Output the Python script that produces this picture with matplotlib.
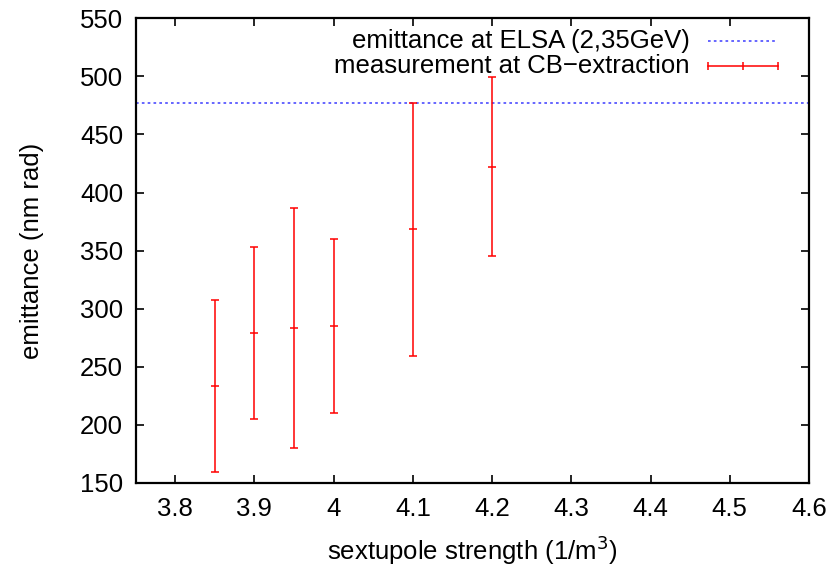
import matplotlib
matplotlib.use("Agg")
import matplotlib.pyplot as plt

plt.rcParams['font.family'] = ['Liberation Sans', 'DejaVu Sans']

# Data
strength = [3.85, 3.9, 3.95, 4.0, 4.1, 4.2]
emittance = [233.5, 279.3, 283.1, 284.9, 368.3, 422.2]
err_low = [159.5, 205.3, 180.1, 210.0, 259.3, 345.3]
err_high = [307.2, 353.4, 386.4, 359.7, 476.8, 499.4]
elsa_emittance = 477.0

xticks = [3.8, 3.9, 4.0, 4.1, 4.2, 4.3, 4.4, 4.5, 4.6]
xticklabels = ['3.8', '3.9', '4', '4.1', '4.2', '4.3', '4.4', '4.5', '4.6']
yticks = [150, 200, 250, 300, 350, 400, 450, 500, 550]

label_elsa = 'emittance at ELSA (2,35GeV)'
label_meas = 'measurement at CB\u2212extraction'

fig = plt.figure(figsize=(8.38, 5.66), dpi=100)
ax = fig.add_axes([135.5/838, (566-483)/566, (809-135.5)/838, (483-18.3)/566])

red = '#ff0000'
blue = '#4c4cff'
fs = 18.5
dots = (0, (1.6, 1.9))

ax.axhline(elsa_emittance, color=blue, lw=1.2, ls=dots)

yerr = [[e - l for e, l in zip(emittance, err_low)],
        [h - e for e, h in zip(emittance, err_high)]]
ax.errorbar(strength, emittance, yerr=yerr, fmt='none', ecolor=red,
            elinewidth=1.1, capsize=2.9, capthick=1.1)
ax.plot(strength, emittance, ls='none', marker='_', ms=6, mew=1.1, color=red)

ax.set_xlim(3.75, 4.6)
ax.set_ylim(150, 550)
ax.set_xticks(xticks)
ax.set_xticklabels(xticklabels)
ax.set_yticks(yticks)
ax.tick_params(direction='in', length=6, width=1.2, top=True, right=True,
               labelsize=fs)
ax.tick_params(axis='x', pad=10)
ax.tick_params(axis='y', pad=9)
for s in ax.spines.values():
    s.set_linewidth(1.6)

ax.set_xlabel('sextupole strength (1/m$^3$)', fontsize=fs, labelpad=9)
ax.set_ylabel('emittance (nm rad)', fontsize=fs, labelpad=26)

# gnuplot-style key (text left of sample)
tx = 0.823
x0, x1 = 0.850, 0.954
xm = (x0 + x1) / 2
y1, y2 = 0.951, 0.897
ax.text(tx, y1, label_elsa, transform=ax.transAxes, ha='right', va='center', fontsize=fs)
ax.text(tx, y2, label_meas, transform=ax.transAxes, ha='right', va='center', fontsize=fs)
ax.plot([x0, x1], [y1, y1], transform=ax.transAxes, color=blue, lw=1.2, ls=dots)
ax.plot([x0, x1], [y2, y2], transform=ax.transAxes, color=red, lw=1.1)
ax.plot([x0, x1, xm], [y2, y2, y2], transform=ax.transAxes, ls='none', marker='|',
        ms=6, mew=1.1, color=red)

fig.savefig('out.png', dpi=100)
